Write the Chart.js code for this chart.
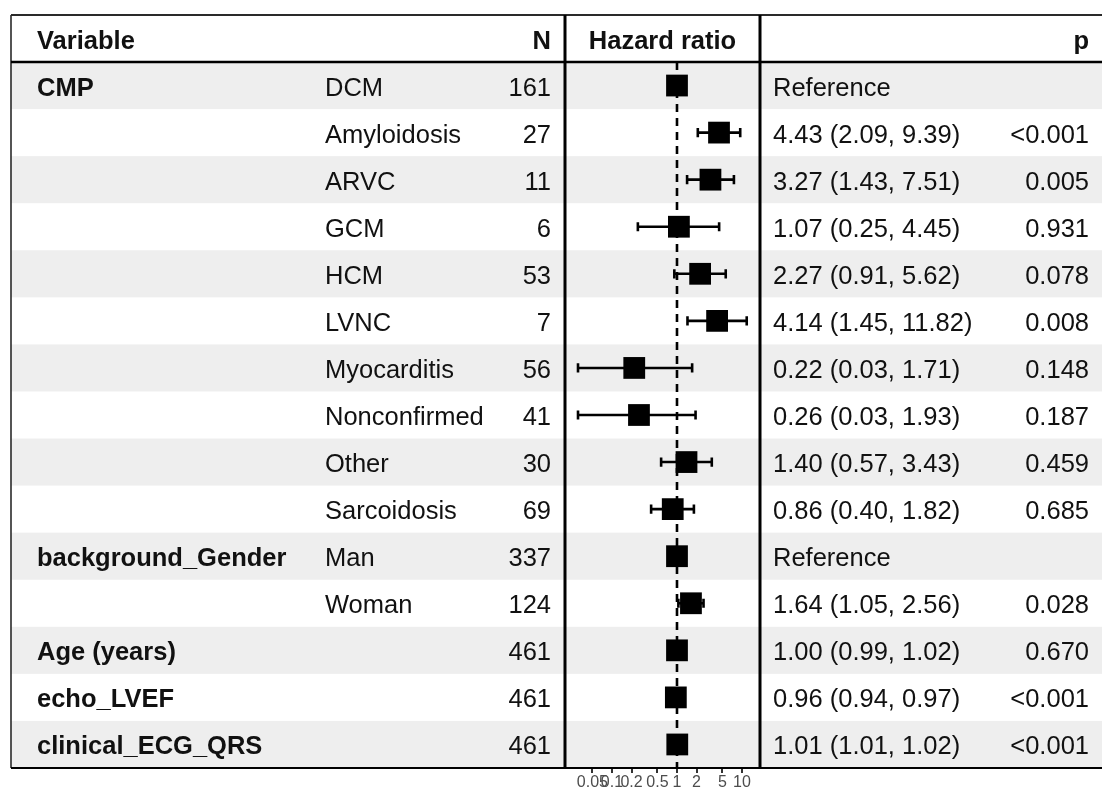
<!DOCTYPE html>
<html>
<head>
<meta charset="utf-8">
<script src="https://cdn.jsdelivr.net/npm/chart.js@4/dist/chart.umd.min.js"></script>
<style>
  html, body { margin: 0; padding: 0; background: #ffffff; }
  #forest { display: block; }
</style>
</head>
<body>
<canvas id="forest" width="1102" height="791"></canvas>
<script>
// Cox model results, one entry per table row
const variables = ['CMP', '', '', '', '', '', '', '', '', '', 'background_Gender', '', 'Age (years)', 'echo_LVEF', 'clinical_ECG_QRS'];
const levels = ['DCM', 'Amyloidosis', 'ARVC', 'GCM', 'HCM', 'LVNC', 'Myocarditis', 'Nonconfirmed', 'Other', 'Sarcoidosis', 'Man', 'Woman', '', '', ''];
const counts = [161, 27, 11, 6, 53, 7, 56, 41, 30, 69, 337, 124, 461, 461, 461];
const hazardRatios = [1, 4.43, 3.27, 1.07, 2.27, 4.14, 0.22, 0.26, 1.40, 0.86, 1, 1.64, 1.00, 0.96, 1.01];
const ciLower = [null, 2.09, 1.43, 0.25, 0.91, 1.45, 0.03, 0.03, 0.57, 0.40, null, 1.05, 0.99, 0.94, 1.01];
const ciUpper = [null, 9.39, 7.51, 4.45, 5.62, 11.82, 1.71, 1.93, 3.43, 1.82, null, 2.56, 1.02, 0.97, 1.02];
const isReference = [true, false, false, false, false, false, false, false, false, false, true, false, false, false, false];
const pValues = ['', '<0.001', '0.005', '0.931', '0.078', '0.008', '0.148', '0.187', '0.459', '0.685', '', '0.028', '0.670', '<0.001', '<0.001'];
const tickValues = [0.05, 0.1, 0.2, 0.5, 1, 2, 5, 10];
const tickLabels = ['0.05', '0.1', '0.2', '0.5', '1', '2', '5', '10'];
const headers = { variable: 'Variable', n: 'N', hr: 'Hazard ratio', p: 'p' };

const FONT = '"Liberation Sans", Arial, Helvetica, sans-serif';
const TEXT_SIZE = 25.5;
const nRows = levels.length;

const TABLE = {
  left: 11, top: 15, headerBottom: 62,
  colVar: 37, colLevel: 325, colN: 551, colEst: 773, colP: 1089,
  panelLeft: 565, panelRight: 760
};

function estimateText(i) {
  if (isReference[i]) return 'Reference';
  return hazardRatios[i].toFixed(2) + ' (' + ciLower[i].toFixed(2) + ', ' + ciUpper[i].toFixed(2) + ')';
}

// Shaded rows, column rules and all table text around the plot panel
const tablePlugin = {
  id: 'forestTable',
  beforeDraw(chart) {
    const ctx = chart.ctx;
    const y = chart.scales.y;
    ctx.save();
    ctx.fillStyle = '#ffffff';
    ctx.fillRect(0, 0, chart.width, chart.height);
    ctx.fillStyle = '#eeeeee';
    for (let i = 0; i < nRows; i += 2) {
      const top = y.getPixelForValue(i + 0.5);
      const bottom = y.getPixelForValue(i + 1.5);
      ctx.fillRect(TABLE.left, top, chart.width - TABLE.left, bottom - top);
    }
    ctx.restore();
  },
  beforeDatasetsDraw(chart) {
    // confidence-interval whiskers with end caps
    const ctx = chart.ctx;
    const x = chart.scales.x;
    const y = chart.scales.y;
    ctx.save();
    ctx.strokeStyle = '#000000';
    ctx.lineWidth = 2.6;
    for (let i = 0; i < nRows; i++) {
      if (ciLower[i] == null) continue;
      const cy = y.getPixelForValue(i + 1);
      const x0 = x.getPixelForValue(ciLower[i]);
      const x1 = x.getPixelForValue(ciUpper[i]);
      ctx.beginPath();
      ctx.moveTo(x0, cy); ctx.lineTo(x1, cy);
      ctx.moveTo(x0, cy - 4.6); ctx.lineTo(x0, cy + 4.6);
      ctx.moveTo(x1, cy - 4.6); ctx.lineTo(x1, cy + 4.6);
      ctx.stroke();
    }
    ctx.restore();
  },
  afterDraw(chart) {
    const ctx = chart.ctx;
    const y = chart.scales.y;
    const bottom = chart.chartArea.bottom;
    const W = chart.width;
    ctx.save();

    // header
    ctx.fillStyle = '#111111';
    ctx.font = 'bold ' + TEXT_SIZE + 'px ' + FONT;
    ctx.textBaseline = 'alphabetic';
    const hb = 48.5;
    ctx.textAlign = 'left';
    ctx.fillText(headers.variable, TABLE.colVar, hb);
    ctx.textAlign = 'right';
    ctx.fillText(headers.n, TABLE.colN, hb);
    ctx.fillText(headers.p, TABLE.colP, hb);
    ctx.textAlign = 'center';
    ctx.fillText(headers.hr, (TABLE.panelLeft + TABLE.panelRight) / 2, hb);

    // body rows
    for (let i = 0; i < nRows; i++) {
      const base = y.getPixelForValue(i + 1) + 10;
      if (variables[i]) {
        ctx.font = 'bold ' + TEXT_SIZE + 'px ' + FONT;
        ctx.textAlign = 'left';
        ctx.fillText(variables[i], TABLE.colVar, base);
      }
      ctx.font = TEXT_SIZE + 'px ' + FONT;
      if (levels[i]) {
        ctx.textAlign = 'left';
        ctx.fillText(levels[i], TABLE.colLevel, base);
      }
      ctx.textAlign = 'right';
      ctx.fillText(String(counts[i]), TABLE.colN, base);
      ctx.textAlign = 'left';
      ctx.fillText(estimateText(i), TABLE.colEst, base);
      if (pValues[i]) {
        ctx.textAlign = 'right';
        ctx.fillText(pValues[i], TABLE.colP, base);
      }
    }

    // outer frame and rules
    ctx.strokeStyle = '#2a2a2a';
    ctx.lineWidth = 2;
    ctx.beginPath();
    ctx.moveTo(TABLE.left, TABLE.top); ctx.lineTo(W, TABLE.top);
    ctx.stroke();
    ctx.lineWidth = 1.6;
    ctx.beginPath();
    ctx.moveTo(TABLE.left, TABLE.top); ctx.lineTo(TABLE.left, bottom);
    ctx.stroke();
    ctx.strokeStyle = '#000000';
    ctx.lineWidth = 2.6;
    ctx.beginPath();
    ctx.moveTo(TABLE.left, TABLE.headerBottom); ctx.lineTo(W, TABLE.headerBottom);
    ctx.stroke();
    ctx.lineWidth = 2.2;
    ctx.beginPath();
    ctx.moveTo(TABLE.left, bottom); ctx.lineTo(W, bottom);
    ctx.stroke();
    ctx.lineWidth = 3;
    ctx.beginPath();
    ctx.moveTo(TABLE.panelLeft, TABLE.top); ctx.lineTo(TABLE.panelLeft, bottom);
    ctx.moveTo(TABLE.panelRight, TABLE.top); ctx.lineTo(TABLE.panelRight, bottom);
    ctx.stroke();
    ctx.restore();
  }
};

const LOG_MIN = Math.pow(10, -1.723);
const LOG_MAX = Math.pow(10, 1.277);

new Chart(document.getElementById('forest'), {
  type: 'scatter',
  data: {
    datasets: [
      {
        label: 'Hazard ratio',
        order: 1,
        data: hazardRatios.map((v, i) => ({ x: v, y: i + 1 })),
        pointStyle: 'rect',
        pointRadius: 15.4,
        pointHoverRadius: 15.4,
        backgroundColor: '#000000',
        borderWidth: 0
      },
      {
        label: 'No effect',
        type: 'line',
        order: 2,
        data: [{ x: 1, y: 0.5 }, { x: 1, y: nRows + 0.5 }],
        borderColor: '#000000',
        borderWidth: 2.6,
        borderDash: [8, 6],
        pointRadius: 0,
        showLine: true,
        fill: false
      }
    ]
  },
  options: {
    responsive: false,
    animation: false,
    events: [],
    layout: { padding: { left: TABLE.panelLeft, right: 1102 - TABLE.panelRight, top: TABLE.headerBottom, bottom: 0 } },
    plugins: { legend: { display: false }, tooltip: { enabled: false } },
    scales: {
      x: {
        type: 'logarithmic',
        min: LOG_MIN,
        max: LOG_MAX,
        afterBuildTicks: (scale) => { scale.ticks = tickValues.map(v => ({ value: v })); },
        afterFit: (scale) => { scale.height = 23; },
        border: { display: false },
        grid: { drawOnChartArea: false, drawTicks: true, tickLength: 5, color: '#333333', lineWidth: 2 },
        ticks: {
          autoSkip: false,
          maxRotation: 0,
          padding: 0,
          color: '#4d4d4d',
          font: { family: FONT, size: 16 },
          callback: (value, index) => tickLabels[index]
        }
      },
      y: {
        type: 'linear',
        display: false,
        min: 0.5,
        max: nRows + 0.5,
        reverse: true
      }
    }
  },
  plugins: [tablePlugin]
});
</script>
</body>
</html>
